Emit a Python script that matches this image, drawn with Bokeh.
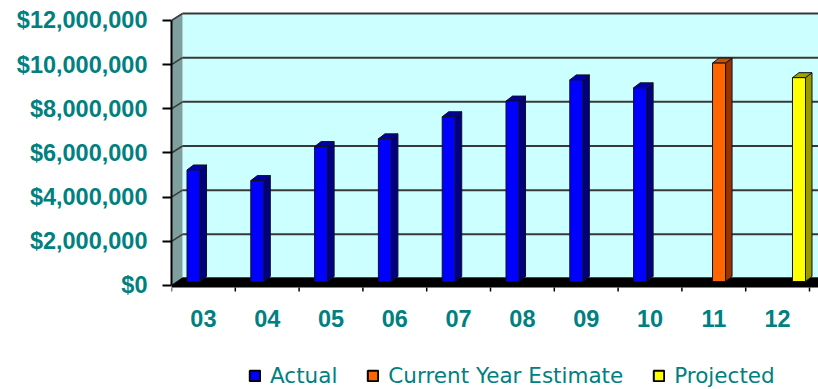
from bokeh.plotting import figure
from bokeh.layouts import column
from bokeh.models import Range1d, FixedTicker, NumeralTickFormatter, Legend, LegendItem
from bokeh.embed import file_html
from bokeh.resources import INLINE

# ---- data -------------------------------------------------------------
years = ["03", "04", "05", "06", "07", "08", "09", "10", "11", "12"]
actual = [5050000, 4570000, 6110000, 6460000, 7460000, 8170000,
          9130000, 8770000, None, None]
estimate = [None, None, None, None, None, None, None, None, 9890000, None]
projected = [None, None, None, None, None, None, None, None, None, 9230000]
y_ticks = [0, 2000000, 4000000, 6000000, 8000000, 10000000, 12000000]
series_names = ["Actual", "Current Year Estimate", "Projected"]

# ---- 3-D look constants (x in category units, y in dollars) ----------
WALL_DX = 0.1724        # depth of the side wall, horizontally
WALL_DY = 317000        # depth of the side wall, vertically
FLOOR_BACK = 362000
FLOOR_FRONT = -90000
BAR_W = 0.204
BAR_BASE = 181000       # bars stand half way back on the floor
BAR_DX = 0.102
BAR_DY = 226000
X_END = 9.641

TEAL = "#008080"
FRONT = ["#0000FF", "#FF6600", "#FFFF00"]
SIDE = ["#000080", "#993300", "#999900"]
TOP = ["#0000A8", "#CC5200", "#A0A000"]

p = figure(width=818, height=340, output_backend="svg", toolbar_location=None,
           x_range=Range1d(-0.5, X_END), y_range=Range1d(-317000, 12679000),
           min_border_left=171, min_border_right=0, min_border_top=5,
           min_border_bottom=48)
p.outline_line_color = None
p.xgrid.visible = False
p.ygrid.visible = False
p.background_fill_color = "white"
p.border_fill_color = "white"

left = -0.5
back_left = left + WALL_DX

# back wall
p.quad(left=back_left, right=X_END + 1, bottom=WALL_DY, top=y_ticks[-1] + WALL_DY,
       fill_color="#CCFFFF", line_color=None)
# side wall
p.patch([left, left, back_left, back_left],
        [0, y_ticks[-1], y_ticks[-1] + WALL_DY, WALL_DY],
        fill_color="#7F9F9F", line_color=None)

# gridlines on the back wall and their run down the side wall
p.segment(x0=[back_left] * len(y_ticks), y0=[t + WALL_DY for t in y_ticks],
          x1=[X_END + 1] * len(y_ticks), y1=[t + WALL_DY for t in y_ticks],
          line_color="#383838", line_width=2)
p.segment(x0=[left] * len(y_ticks), y0=y_ticks,
          x1=[back_left] * len(y_ticks), y1=[t + WALL_DY for t in y_ticks],
          line_color="#383838", line_width=1.5)

# floor
p.patch([left, back_left, X_END + 1, X_END + 1, left],
        [0, FLOOR_BACK, FLOOR_BACK, FLOOR_FRONT, FLOOR_FRONT],
        fill_color="black", line_color=None)

# category boundary ticks under the floor
bounds = [i - 0.5 for i in range(len(years) + 1)]
p.segment(x0=bounds, y0=[FLOOR_FRONT] * len(bounds), x1=bounds,
          y1=[-272000] * len(bounds), line_color="black", line_width=1.5)


def draw_series(values, offset, front, side, top):
    lefts, rights, bottoms, tops = [], [], [], []
    side_xs, side_ys, top_xs, top_ys = [], [], [], []
    for i, v in enumerate(values):
        if v is None:
            continue
        l = i + offset - BAR_W / 2
        r = i + offset + BAR_W / 2
        b = BAR_BASE
        t = v + BAR_BASE
        lefts.append(l); rights.append(r); bottoms.append(b); tops.append(t)
        side_xs.append([r, r + BAR_DX, r + BAR_DX, r])
        side_ys.append([b, b + BAR_DY, t + BAR_DY, t])
        top_xs.append([l, l + BAR_DX, r + BAR_DX, r])
        top_ys.append([t, t + BAR_DY, t + BAR_DY, t])
    p.patches(side_xs, side_ys, fill_color=side, line_color="#101020", line_width=1)
    p.patches(top_xs, top_ys, fill_color=top, line_color="#101020", line_width=1)
    p.quad(left=lefts, right=rights, bottom=bottoms, top=tops,
           fill_color=front, line_color="#101020", line_width=1)


for vals, off, k in [(actual, -0.155, 0), (estimate, 0.082, 1), (projected, 0.335, 2)]:
    draw_series(vals, off, FRONT[k], SIDE[k], TOP[k])

# y axis: front edge of the side wall
ya = p.yaxis[0]
ya.ticker = FixedTicker(ticks=y_ticks)
ya.formatter = NumeralTickFormatter(format="$0,0")
ya.bounds = (0, y_ticks[-1])
ya.axis_line_color = "black"
ya.axis_line_width = 2
ya.major_tick_line_color = "black"
ya.major_tick_line_width = 2
ya.major_tick_out = 9
ya.major_tick_in = 0
ya.minor_tick_line_color = None
ya.major_label_standoff = 15
ya.major_label_text_font = "Liberation Sans"
ya.major_label_text_font_style = "bold"
ya.major_label_text_font_size = "23.5px"
ya.major_label_text_color = TEAL

# x axis: year labels under each category
xa = p.xaxis[0]
xa.ticker = FixedTicker(ticks=list(range(len(years))))
xa.major_label_overrides = {i: y for i, y in enumerate(years)}
xa.axis_line_color = None
xa.major_tick_line_color = None
xa.minor_tick_line_color = None
xa.major_tick_out = 0
xa.major_tick_in = 0
xa.major_label_standoff = 17
xa.major_label_text_font = "Liberation Sans"
xa.major_label_text_font_style = "bold"
xa.major_label_text_font_size = "23.5px"
xa.major_label_text_color = TEAL

# ---- legend strip under the chart ------------------------------------
lg = figure(width=818, height=49, output_backend="svg", toolbar_location=None,
            x_range=Range1d(0, 1), y_range=Range1d(0, 1),
            x_axis_type=None, y_axis_type=None,
            min_border_left=0, min_border_right=0, min_border_top=0,
            min_border_bottom=0)
lg.outline_line_color = None
lg.xgrid.visible = False
lg.ygrid.visible = False
# swatch renderers sit outside the visible range; only their legend boxes show
swatches = [lg.quad(left=[-3], right=[-2], bottom=[-3], top=[-2], fill_color=c,
                    line_color="black", line_width=2) for c in FRONT]
legend = Legend(items=[LegendItem(label=n, renderers=[r])
                       for n, r in zip(series_names, swatches)],
                orientation="horizontal", location=(77, 1),
                label_text_font="DejaVu Sans", label_text_font_size="21.5px",
                label_text_color=TEAL, glyph_width=13, glyph_height=13,
                label_standoff=9, spacing=29, padding=0, margin=0,
                border_line_color=None, background_fill_alpha=0)
lg.add_layout(legend)

open("out.html", "w").write(file_html(column(p, lg, spacing=0), INLINE))
